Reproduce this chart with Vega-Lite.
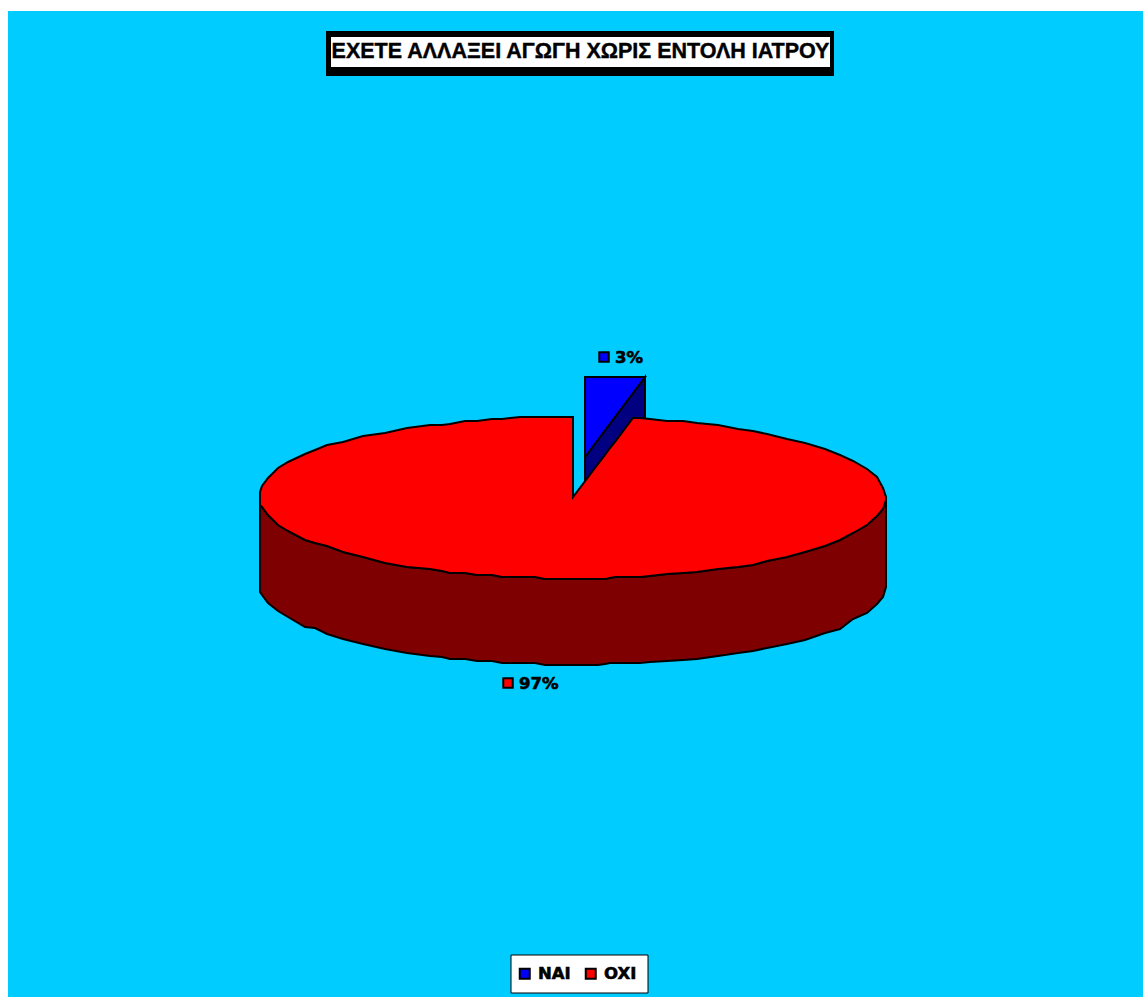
{
  "$schema": "https://vega.github.io/schema/vega-lite/v6.json",
  "width": 1135,
  "height": 986,
  "autosize": "none",
  "padding": {"left": 8, "top": 11, "right": 0, "bottom": 1},
  "background": "#FFFFFF",
  "config": {
    "view": {"fill": "#00CCFF", "stroke": null},
    "axis": {"disable": true}
  },
  "datasets": {
    "rim": [
      {"e": -313, "top": 5, "rim": -8, "base": -95},
      {"e": -311, "top": 11, "rim": -10, "base": -98},
      {"e": -305, "top": 19, "rim": -18, "base": -106},
      {"e": -295, "top": 29, "rim": -28, "base": -114},
      {"e": -285, "top": 35, "rim": -34, "base": -120},
      {"e": -268, "top": 43, "rim": -43, "base": -130},
      {"e": -258, "top": 47, "rim": -46, "base": -131},
      {"e": -246, "top": 52, "rim": -49, "base": -137},
      {"e": -230, "top": 55, "rim": -55, "base": -142},
      {"e": -210, "top": 61, "rim": -60, "base": -147},
      {"e": -188, "top": 64, "rim": -66, "base": -152},
      {"e": -166, "top": 69, "rim": -70, "base": -156},
      {"e": -143, "top": 72, "rim": -72, "base": -159},
      {"e": -131, "top": 72, "rim": -74, "base": -160},
      {"e": -123, "top": 73, "rim": -76, "base": -162},
      {"e": -108, "top": 76, "rim": -76, "base": -162},
      {"e": -96, "top": 76, "rim": -78, "base": -164},
      {"e": -81, "top": 78, "rim": -78, "base": -164},
      {"e": -71, "top": 78, "rim": -80, "base": -166},
      {"e": -53, "top": 80, "rim": -80, "base": -166},
      {"e": -38, "top": 80, "rim": -80, "base": -166},
      {"e": -28, "top": 80, "rim": -82, "base": -168},
      {"e": 0, "top": 80, "rim": -82, "base": -168},
      {"e": 0, "top": 0, "rim": -82, "base": -168},
      {"e": 25, "top": 33, "rim": -82, "base": -168},
      {"e": 32, "top": 42, "rim": -82, "base": -167},
      {"e": 37, "top": 49, "rim": -81, "base": -166},
      {"e": 42, "top": 55, "rim": -80, "base": -166},
      {"e": 60, "top": 79, "rim": -80, "base": -166},
      {"e": 67, "top": 79, "rim": -80, "base": -166},
      {"e": 77, "top": 78, "rim": -79, "base": -165},
      {"e": 94, "top": 76, "rim": -77, "base": -164},
      {"e": 110, "top": 76, "rim": -76, "base": -163},
      {"e": 124, "top": 74, "rim": -75, "base": -162},
      {"e": 145, "top": 72, "rim": -72, "base": -159},
      {"e": 165, "top": 68, "rim": -70, "base": -156},
      {"e": 180, "top": 66, "rim": -68, "base": -154},
      {"e": 194, "top": 63, "rim": -64, "base": -151},
      {"e": 214, "top": 58, "rim": -60, "base": -147},
      {"e": 232, "top": 54, "rim": -55, "base": -143},
      {"e": 252, "top": 48, "rim": -49, "base": -136},
      {"e": 267, "top": 42, "rim": -43, "base": -132},
      {"e": 280, "top": 36, "rim": -36, "base": -122},
      {"e": 294, "top": 28, "rim": -28, "base": -116},
      {"e": 304, "top": 20, "rim": -19, "base": -107},
      {"e": 310, "top": 9, "rim": -12, "base": -100},
      {"e": 313, "top": 0, "rim": -3, "base": -90}
    ],
    "wedge": [
      {"e": 12, "top": 120, "cut": 40, "base": 15},
      {"e": 60, "top": 120, "cut": 104, "base": 79},
      {"e": 72, "top": 120, "cut": 120, "base": 78}
    ],
    "shares": [
      {"answer": "NAI", "share": 3, "label": "3%", "e": 31, "n": 140, "labelE": 42},
      {"answer": "OXI", "share": 97, "label": "97%", "e": -65, "n": -186, "labelE": -54}
    ],
    "banner": [
      {"title": "ΕΧΕΤΕ ΑΛΛΑΞΕΙ ΑΓΩΓΗ ΧΩΡΙΣ ΕΝΤΟΛΗ ΙΑΤΡΟΥ", "e": 7.5, "n": 445, "left": -247, "right": 261, "upper": 466, "lower": 421, "innerLeft": -242, "innerRight": 257, "innerUpper": 460, "innerLower": 430}
    ],
    "legendBox": [
      {"left": -62, "right": 75, "upper": -458, "lower": -496}
    ]
  },
  "layer": [
    {
      "data": {"name": "banner"},
      "mark": {"type": "rect", "fill": "#000000"},
      "encoding": {
        "x": {"field": "left", "type": "quantitative", "scale": {"domain": [-565, 570], "nice": false, "zero": false}},
        "x2": {"field": "right"},
        "y": {"field": "upper", "type": "quantitative", "scale": {"domain": [-500, 486], "nice": false, "zero": false}},
        "y2": {"field": "lower"}
      }
    },
    {
      "data": {"name": "banner"},
      "mark": {"type": "rect", "fill": "#FFFFFF"},
      "encoding": {
        "x": {"field": "innerLeft", "type": "quantitative", "scale": {"domain": [-565, 570], "nice": false, "zero": false}},
        "x2": {"field": "innerRight"},
        "y": {"field": "innerUpper", "type": "quantitative", "scale": {"domain": [-500, 486], "nice": false, "zero": false}},
        "y2": {"field": "innerLower"}
      }
    },
    {
      "data": {"name": "banner"},
      "mark": {"type": "text", "font": "Liberation Sans", "fontWeight": "bold", "fontSize": 21.5, "color": "#000000", "stroke": "#000000", "strokeWidth": 0.4, "align": "center", "baseline": "middle"},
      "encoding": {
        "x": {"field": "e", "type": "quantitative", "scale": {"domain": [-565, 570], "nice": false, "zero": false}},
        "y": {"field": "n", "type": "quantitative", "scale": {"domain": [-500, 486], "nice": false, "zero": false}},
        "text": {"field": "title"}
      }
    },
    {
      "data": {"name": "legendBox"},
      "mark": {"type": "rect", "fill": "#FFFFFF", "stroke": "#000000", "strokeWidth": 1},
      "encoding": {
        "x": {"field": "left", "type": "quantitative", "scale": {"domain": [-565, 570], "nice": false, "zero": false}},
        "x2": {"field": "right"},
        "y": {"field": "upper", "type": "quantitative", "scale": {"domain": [-500, 486], "nice": false, "zero": false}},
        "y2": {"field": "lower"}
      }
    },
    {
      "data": {"name": "wedge"},
      "mark": {"type": "area", "fill": "#000080", "stroke": "#000000", "strokeWidth": 2, "strokeJoin": "miter"},
      "encoding": {
        "x": {"field": "e", "type": "quantitative", "scale": {"domain": [-565, 570], "nice": false, "zero": false}},
        "y": {"field": "cut", "type": "quantitative", "scale": {"domain": [-500, 486], "nice": false, "zero": false}},
        "y2": {"field": "base"}
      }
    },
    {
      "data": {"name": "wedge"},
      "mark": {"type": "area", "fill": "#0000FF", "stroke": "#000000", "strokeWidth": 2, "strokeJoin": "miter"},
      "encoding": {
        "x": {"field": "e", "type": "quantitative", "scale": {"domain": [-565, 570], "nice": false, "zero": false}},
        "y": {"field": "top", "type": "quantitative", "scale": {"domain": [-500, 486], "nice": false, "zero": false}},
        "y2": {"field": "cut"}
      }
    },
    {
      "data": {"name": "rim"},
      "mark": {"type": "area", "fill": "#7F0000", "stroke": "#000000", "strokeWidth": 2, "strokeJoin": "miter"},
      "encoding": {
        "x": {"field": "e", "type": "quantitative", "scale": {"domain": [-565, 570], "nice": false, "zero": false}},
        "y": {"field": "rim", "type": "quantitative", "scale": {"domain": [-500, 486], "nice": false, "zero": false}},
        "y2": {"field": "base"}
      }
    },
    {
      "data": {"name": "rim"},
      "mark": {"type": "area", "fill": "#FF0000", "stroke": "#000000", "strokeWidth": 2, "strokeJoin": "miter"},
      "encoding": {
        "x": {"field": "e", "type": "quantitative", "scale": {"domain": [-565, 570], "nice": false, "zero": false}},
        "y": {"field": "top", "type": "quantitative", "scale": {"domain": [-500, 486], "nice": false, "zero": false}},
        "y2": {"field": "rim"}
      }
    },
    {
      "data": {"name": "shares"},
      "mark": {"type": "point", "shape": "square", "filled": true, "size": 90, "opacity": 1, "stroke": "#000000", "strokeWidth": 2},
      "encoding": {
        "x": {"field": "e", "type": "quantitative", "scale": {"domain": [-565, 570], "nice": false, "zero": false}},
        "y": {"field": "n", "type": "quantitative", "scale": {"domain": [-500, 486], "nice": false, "zero": false}},
        "color": {
          "field": "answer",
          "type": "nominal",
          "scale": {"domain": ["NAI", "OXI"], "range": ["#0000FF", "#FF0000"]},
          "legend": {
            "title": null,
            "orient": "none",
            "legendX": 508.5,
            "legendY": 954,
            "direction": "horizontal",
            "columns": 2,
            "columnPadding": 10,
            "padding": 0,
            "symbolType": "square",
            "symbolSize": 100,
            "symbolStrokeColor": "#000000",
            "symbolStrokeWidth": 2,
            "symbolOpacity": 1,
            "labelOffset": 5,
            "labelFont": "DejaVu Sans",
            "labelFontWeight": "bold",
            "labelFontSize": 16.5,
            "labelColor": "#000000",
            "labelLimit": 60,
            "encode": {"labels": {"update": {"stroke": {"value": "#000000"}, "strokeWidth": {"value": 0.6}}}}
          }
        }
      }
    },
    {
      "data": {"name": "shares"},
      "mark": {"type": "text", "font": "DejaVu Sans", "fontWeight": "bold", "fontSize": 16.5, "color": "#000000", "stroke": "#000000", "strokeWidth": 0.6, "align": "left", "baseline": "middle", "dy": 0.5},
      "encoding": {
        "x": {"field": "labelE", "type": "quantitative", "scale": {"domain": [-565, 570], "nice": false, "zero": false}},
        "y": {"field": "n", "type": "quantitative", "scale": {"domain": [-500, 486], "nice": false, "zero": false}},
        "text": {"field": "label"}
      }
    }
  ]
}
